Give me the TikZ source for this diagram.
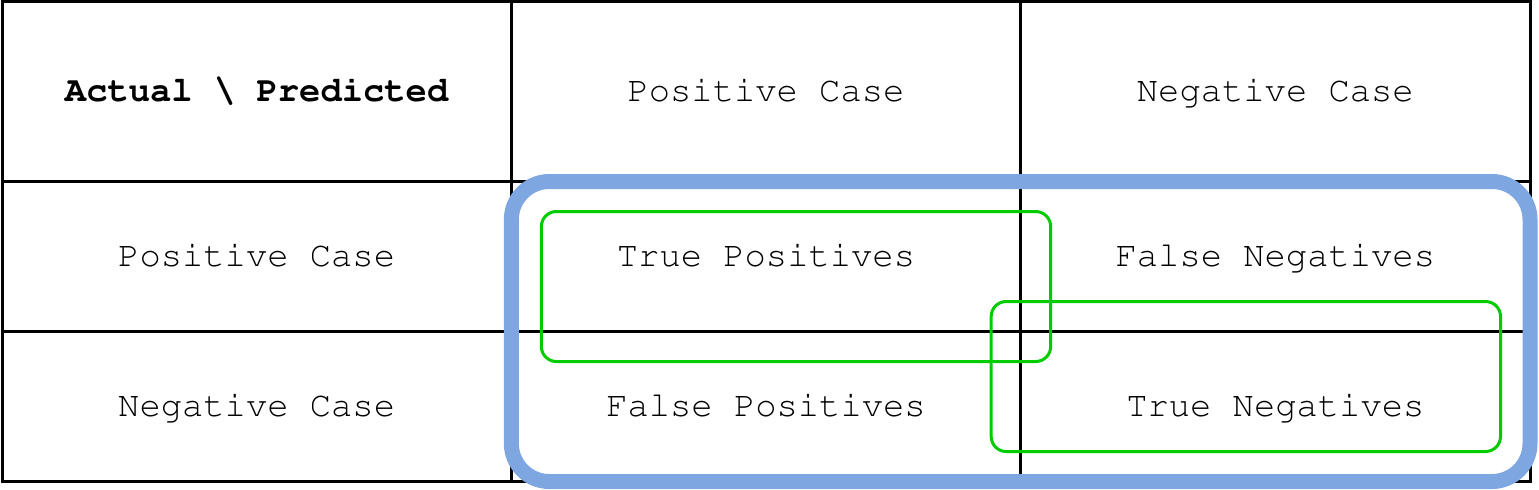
\documentclass[tikz,border=0pt]{standalone}
\usepackage[T1]{fontenc}
\usepackage{courier}
\usetikzlibrary{positioning}
\definecolor{rimblue}{HTML}{7EA6E0}
\definecolor{rimgreen}{HTML}{00CC00}
\tikzset{
  cell/.style={draw, line width=1.5pt, inner sep=0pt, outer sep=0pt,
    minimum width=254.67pt, minimum height=75pt,
    text height=10pt, text depth=0pt,
    font=\ttfamily\fontsize{17.75}{20}\selectfont},
  headcell/.style={cell, minimum height=90pt},
  outerrim/.style={draw=rimblue, line width=7.5pt, rounded corners=19pt},
  innerrim/.style={draw=rimgreen, line width=1.5pt, rounded corners=7.5pt}
}

\begin{document}
\begin{tikzpicture}[x=0.5pt, y=-0.5pt, node distance=0pt]
  \useasboundingbox (0,0) rectangle (1539,489);
  % header row
  \node[headcell, anchor=north west] (corner) at (2,1.5) {\textbf{Actual \textbackslash{} Predicted}};
  \node[headcell] (predpos) [right=of corner] {Positive Case};
  \node[headcell] (predneg) [right=of predpos] {Negative Case};
  % body rows
  \node[cell] (actpos) [below=of corner] {Positive Case};
  \node[cell] (tp) [right=of actpos] {True Positives};
  \node[cell] (fn) [right=of tp] {False Negatives};
  \node[cell] (actneg) [below=of actpos] {Negative Case};
  \node[cell] (fp) [right=of actneg] {False Positives};
  \node[cell] (tn) [right=of fp] {True Negatives};
  % highlights
  \draw[outerrim] (tp.north west) rectangle (tn.south east);
  \draw[innerrim] ([shift={(30,30)}]tp.north west) rectangle ([shift={(30,30)}]tp.south east);
  \draw[innerrim] ([shift={(-29.5,-30)}]tn.north west) rectangle ([shift={(-29.5,-30)}]tn.south east);
\end{tikzpicture}
\end{document}
